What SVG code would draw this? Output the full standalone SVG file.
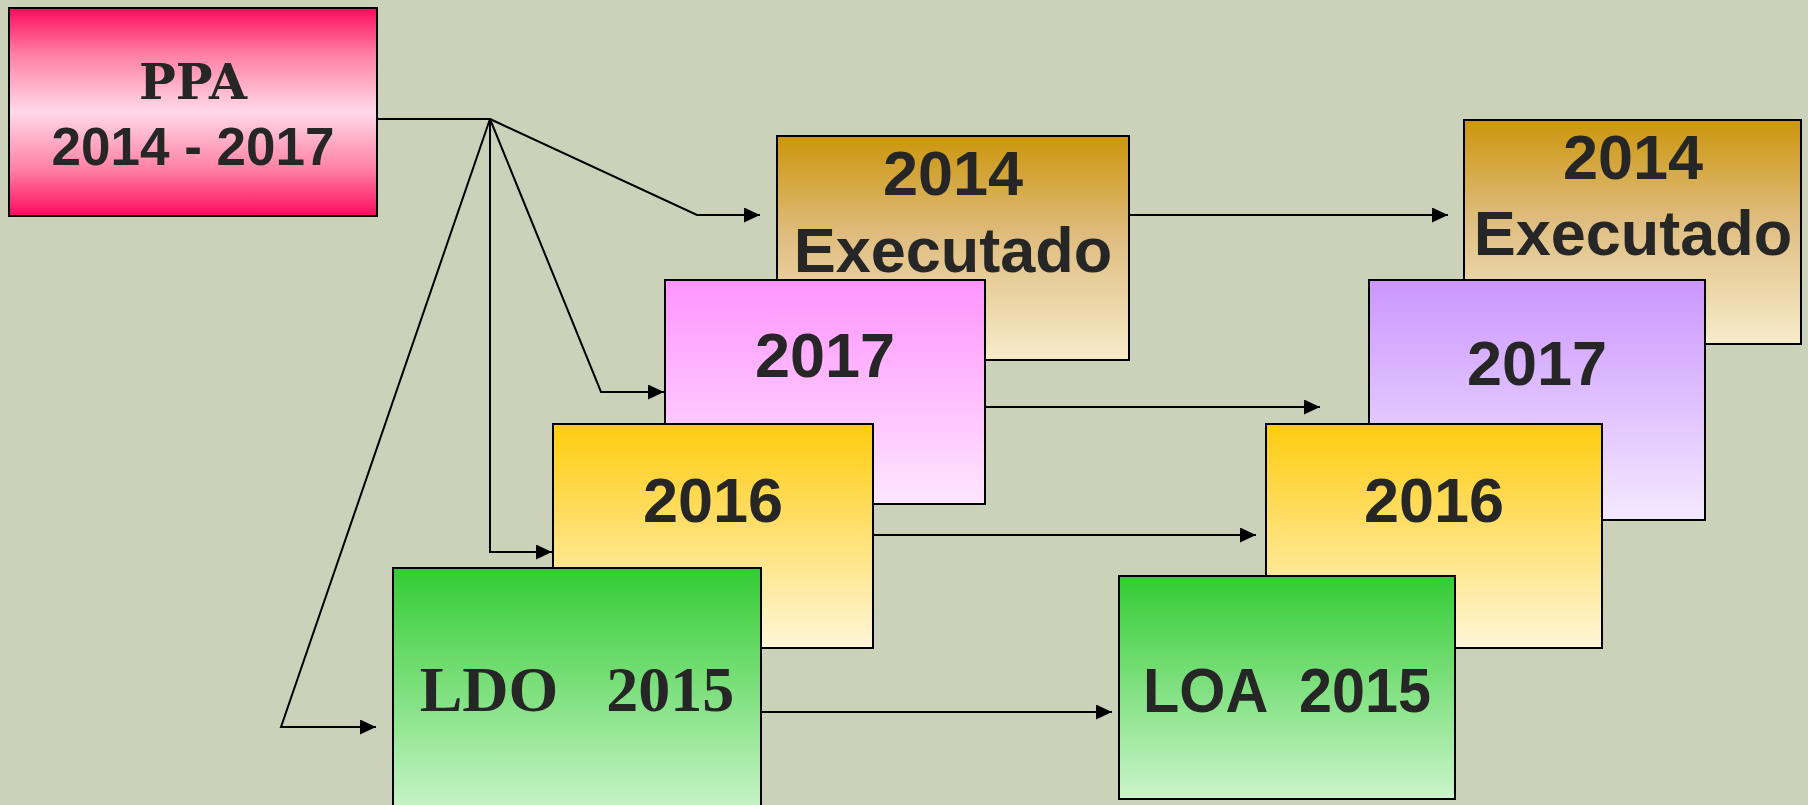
<svg xmlns="http://www.w3.org/2000/svg" width="1808" height="805" viewBox="0 0 1808 805">
<defs>
<linearGradient id="gPink" x1="0" y1="0" x2="0" y2="1">
<stop offset="0" stop-color="#ff0a5e"/><stop offset="0.22" stop-color="#ff7fa4"/><stop offset="0.5" stop-color="#ffd9e8"/><stop offset="0.78" stop-color="#ff7fa4"/><stop offset="1" stop-color="#ff0a5e"/>
</linearGradient>
<linearGradient id="gGold" x1="0" y1="0" x2="0" y2="1">
<stop offset="0" stop-color="#cc960c"/><stop offset="0.45" stop-color="#dfbd80"/><stop offset="1" stop-color="#f7ecca"/>
</linearGradient>
<linearGradient id="gMag" x1="0" y1="0" x2="0" y2="1">
<stop offset="0" stop-color="#ff94ff"/><stop offset="1" stop-color="#ffe6ff"/>
</linearGradient>
<linearGradient id="gPurp" x1="0" y1="0" x2="0" y2="1">
<stop offset="0" stop-color="#cc96ff"/><stop offset="1" stop-color="#f3e9ff"/>
</linearGradient>
<linearGradient id="gYel" x1="0" y1="0" x2="0" y2="1">
<stop offset="0" stop-color="#ffcc0f"/><stop offset="1" stop-color="#fff6da"/>
</linearGradient>
<linearGradient id="gGreen" x1="0" y1="0" x2="0" y2="1">
<stop offset="0" stop-color="#33cc33"/><stop offset="1" stop-color="#ccf5cc"/>
</linearGradient>
<marker id="arr" markerUnits="userSpaceOnUse" markerWidth="16" markerHeight="15" refX="16" refY="7.5" orient="auto">
<path d="M0,0 L16,7.5 L0,15 z" fill="#000"/>
</marker>
</defs>
<style>
.box{stroke:#000;stroke-width:2}
.t{font-family:"Liberation Sans",Arial,sans-serif;font-weight:bold;font-size:63px;fill:#262626;text-anchor:middle}
.t.sm{font-size:53px}
.s{font-family:"DejaVu Serif","Liberation Serif",serif;font-weight:bold;font-size:49px;fill:#262626;text-anchor:middle}
.c{fill:none;stroke:#000;stroke-width:2}
</style>
<rect width="1808" height="805" fill="#ccd1b9"/>

<g id="ppa">
<rect class="box" x="9" y="8" width="368" height="208" fill="url(#gPink)"/>
<text class="s" x="193" y="99">PPA</text>
<text class="t sm" x="193" y="165">2014 - 2017</text>
</g>

<g id="exec-left">
<rect class="box" x="777" y="136" width="352" height="224" fill="url(#gGold)"/>
<text class="t" x="953" y="195">2014</text>
<text class="t" x="953" y="272">Executado</text>
</g>
<g id="y2017-left">
<rect class="box" x="665" y="280" width="320" height="224" fill="url(#gMag)"/>
<text class="t" x="825" y="377">2017</text>
</g>
<g id="y2016-left">
<rect class="box" x="553" y="424" width="320" height="224" fill="url(#gYel)"/>
<text class="t" x="713" y="522">2016</text>
</g>
<g id="ldo">
<rect class="box" x="393" y="568" width="368" height="250" fill="url(#gGreen)"/>
<text x="577" y="711" font-family="'Liberation Serif','Times New Roman',serif" font-weight="bold" font-size="64" fill="#262626" text-anchor="middle" xml:space="preserve" style="white-space:pre">LDO   2015</text>
</g>

<g id="exec-right">
<rect class="box" x="1464" y="120" width="337" height="224" fill="url(#gGold)"/>
<text class="t" x="1633" y="179">2014</text>
<text class="t" x="1633" y="255">Executado</text>
</g>
<g id="y2017-right">
<rect class="box" x="1369" y="280" width="336" height="240" fill="url(#gPurp)"/>
<text class="t" x="1537" y="385">2017</text>
</g>
<g id="y2016-right">
<rect class="box" x="1266" y="424" width="336" height="224" fill="url(#gYel)"/>
<text class="t" x="1434" y="522">2016</text>
</g>
<g id="loa">
<rect class="box" x="1119" y="576" width="336" height="223" fill="url(#gGreen)"/>
<text class="t" x="1287" y="712" textLength="288" lengthAdjust="spacingAndGlyphs" xml:space="preserve" style="white-space:pre">LOA  2015</text>
</g>

<g id="connectors">
<polyline class="c" points="377,119 490,119"/>
<polyline class="c" points="490,119 697,215 760,215" marker-end="url(#arr)"/>
<polyline class="c" points="490,119 601,392 664,392" marker-end="url(#arr)"/>
<polyline class="c" points="490,119 490,552 552,552" marker-end="url(#arr)"/>
<polyline class="c" points="490,119 281,727 376,727" marker-end="url(#arr)"/>
<line class="c" x1="1129" y1="215" x2="1448" y2="215" marker-end="url(#arr)"/>
<line class="c" x1="985" y1="407" x2="1320" y2="407" marker-end="url(#arr)"/>
<line class="c" x1="873" y1="535" x2="1256" y2="535" marker-end="url(#arr)"/>
<line class="c" x1="761" y1="712" x2="1112" y2="712" marker-end="url(#arr)"/>
</g>
</svg>
